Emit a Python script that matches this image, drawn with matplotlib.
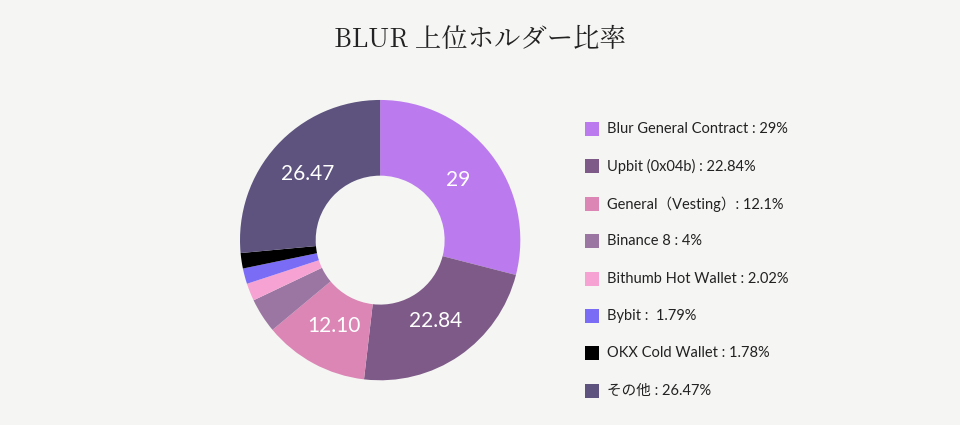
import matplotlib
matplotlib.use("Agg")
import matplotlib.pyplot as plt
from matplotlib.patches import Rectangle
import numpy as np

labels = ["Blur General Contract : 29%", "Upbit (0x04b) : 22.84%", "General（Vesting）: 12.1%",
          "Binance 8 : 4%", "Bithumb Hot Wallet : 2.02%", "Bybit :  1.79%",
          "OKX Cold Wallet : 1.78%", "その他 : 26.47%"]
values = [29, 22.84, 12.10, 4, 2.02, 1.79, 1.78, 26.47]
slice_text = ["29", "22.84", "12.10", "", "", "", "", "26.47"]
colors = ["#BB7AEE", "#7D5A87", "#DB86B5", "#9B76A2", "#F6A3D3", "#7B6CF6", "#000000", "#5D537E"]

plt.rcParams["font.family"] = ["Lato", "Noto Sans CJK JP", "DejaVu Sans"]
bg = "#F5F5F3"
fig = plt.figure(figsize=(9.6, 4.25), dpi=100, facecolor=bg)
ax = fig.add_axes([0.396 - 0.146, 0.435 - 0.33, 0.292, 0.66])
ax.set_facecolor(bg)
wedges, _ = ax.pie(values, colors=colors, startangle=90, counterclock=False,
                   wedgeprops=dict(width=0.54, edgecolor="none"))
for w, t in zip(wedges, slice_text):
    if not t:
        continue
    a = np.deg2rad((w.theta1 + w.theta2) / 2)
    ax.text(0.7 * np.cos(a), 0.7 * np.sin(a), t, color="white", fontsize=15,
            ha="center", va="center")
ax.set_xlim(-1, 1)
ax.set_ylim(-1, 1)
ax.set_aspect("equal")

fig.text(0.5, 0.905, "BLUR 上位ホルダー比率", ha="center", va="center", fontsize=19,
         color="#222222", family=["Noto Serif CJK JP", "DejaVu Serif", "Noto Sans CJK JP"])

for i, (lab, c) in enumerate(zip(labels, colors)):
    yc = 1 - (129 + i * 37.4) / 425
    fig.patches.append(Rectangle((585 / 960, yc - 7 / 425), 14 / 960, 14 / 425,
                                 transform=fig.transFigure, facecolor=c, edgecolor="none"))
    fig.text(607 / 960, yc, lab, ha="left", va="center", fontsize=10.5, color="#222222")

fig.savefig("out.png", dpi=100, facecolor=bg)
